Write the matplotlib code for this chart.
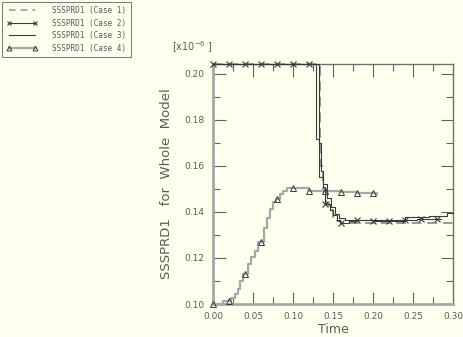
import numpy as np
import matplotlib
matplotlib.use('Agg')
import matplotlib.pyplot as plt
from matplotlib.lines import Line2D
from matplotlib.ticker import MultipleLocator

# ============================================================
# Data (values in units of 1e-6)
# ============================================================
case1_t = [0.000, 0.134, 0.138, 0.141, 0.145, 0.150, 0.155, 0.160, 0.300]
case1_v = [0.2043, 0.1600, 0.1500, 0.1440, 0.1410, 0.1380, 0.1360, 0.1350, 0.1348]

case2_t = [0.000, 0.129, 0.133, 0.137, 0.140, 0.146, 0.150, 0.155, 0.159,
           0.170, 0.178, 0.200, 0.240, 0.255, 0.285]
case2_v = [0.2043, 0.1717, 0.1553, 0.1510, 0.1435, 0.1409, 0.1387, 0.1365, 0.1353,
           0.1360, 0.1365, 0.1362, 0.1365, 0.1370, 0.1370]
case2_mark_t = [0.00, 0.02, 0.04, 0.06, 0.08, 0.10, 0.12, 0.14, 0.16,
                0.18, 0.20, 0.22, 0.24, 0.26, 0.28]
case2_mark_v = [0.2043, 0.2043, 0.2043, 0.2043, 0.2043, 0.2043, 0.2043, 0.1435, 0.1353,
                0.1365, 0.1362, 0.1362, 0.1365, 0.1370, 0.1370]

case3_t = [0.000, 0.1325, 0.135, 0.138, 0.142, 0.148, 0.152, 0.158, 0.165,
           0.240, 0.270, 0.293, 0.300]
case3_v = [0.2043, 0.1700, 0.1580, 0.1520, 0.1460, 0.1420, 0.1390, 0.1375, 0.1367,
           0.1377, 0.1383, 0.1394, 0.1394]

case4_t = [0.000, 0.012, 0.022, 0.027, 0.031, 0.034, 0.038, 0.044, 0.048, 0.052,
           0.056, 0.064, 0.068, 0.071, 0.075, 0.079, 0.084, 0.088, 0.092, 0.100,
           0.120, 0.140, 0.160, 0.180, 0.200, 0.205]
case4_v = [0.1000, 0.1013, 0.1025, 0.1043, 0.1064, 0.1099, 0.1130, 0.1174, 0.1206, 0.1232,
           0.1270, 0.1329, 0.1375, 0.1411, 0.1445, 0.1455, 0.1480, 0.1493, 0.1504, 0.1503,
           0.1493, 0.1490, 0.1487, 0.1484, 0.1481, 0.1480]
case4_mark_t = [0.00, 0.02, 0.04, 0.06, 0.08, 0.10, 0.12, 0.14, 0.16, 0.18, 0.20]
case4_mark_v = [0.1000, 0.1014, 0.1131, 0.1271, 0.1455, 0.1504, 0.1493, 0.1490, 0.1487,
                0.1484, 0.1481]

labels = ['SSSPRD1 (Case 1)', 'SSSPRD1 (Case 2)', 'SSSPRD1 (Case 3)', 'SSSPRD1 (Case 4)']

# ============================================================
bg = '#fffff0'
dark = '#3a3a3a'
gray = '#a8a8a8'
txt = '#5a5a5a'

fig = plt.figure(figsize=(4.63, 3.37), dpi=100, facecolor=bg)
ax = fig.add_axes([213/463, 33/337, 240/463, 240/337], facecolor=bg)

ax.plot(case1_t, case1_v, drawstyle='steps-post', color='#999999', lw=1.4,
        dashes=(5, 3), clip_on=False, zorder=3)
ax.plot(case2_t, case2_v, drawstyle='steps-post', color=dark, lw=0.8,
        clip_on=False, zorder=4)
ax.plot(case2_mark_t, case2_mark_v, ls='none', marker='x', ms=4, mew=0.8, color=dark,
        clip_on=False, zorder=5)
ax.plot(case3_t, case3_v, drawstyle='steps-post', color=dark, lw=0.8,
        clip_on=False, zorder=4)
ax.plot(case4_t, case4_v, drawstyle='steps-post', color=gray, lw=1.6,
        clip_on=False, zorder=3)
ax.plot(case4_mark_t, case4_mark_v, ls='none', marker='^', ms=4, mew=0.7,
        mfc='none', mec=dark, clip_on=False, zorder=5)

ax.set_xlim(0, 0.30)
ax.set_ylim(0.10, 0.2043)
ax.xaxis.set_major_locator(MultipleLocator(0.05))
ax.xaxis.set_minor_locator(MultipleLocator(0.025))
ax.yaxis.set_major_locator(MultipleLocator(0.02))
ax.yaxis.set_minor_locator(MultipleLocator(0.01))
ax.xaxis.set_major_formatter(plt.FormatStrFormatter('%.2f'))
ax.yaxis.set_major_formatter(plt.FormatStrFormatter('%.2f'))
ax.tick_params(which='both', direction='in', top=True, right=True,
               color='#606060', width=0.8, labelsize=6.5, labelcolor=txt, pad=6)
ax.tick_params(which='major', length=9)
ax.tick_params(which='minor', length=5)

for s in ['left', 'bottom']:
    ax.spines[s].set_color(gray)
    ax.spines[s].set_linewidth(2)
for s in ['top', 'right']:
    ax.spines[s].set_color('#707070')
    ax.spines[s].set_linewidth(1)

ax.set_xlabel('Time', fontsize=9, color=txt, labelpad=1)
ax.set_ylabel('SSSPRD1   for  Whole  Model', fontsize=9.5, color=txt, labelpad=8)
fig.text(172/463, 1 - 47/337, r'[x10$^{-6}$ ]', fontsize=7, color=txt, va='center')

handles = [
    Line2D([], [], color='#999999', lw=1.2, dashes=(4, 3)),
    Line2D([], [], color=dark, lw=0.8, marker='x', ms=3.5, mew=0.8),
    Line2D([], [], color=dark, lw=0.8),
    Line2D([], [], color=gray, lw=1.6, marker='^', ms=3.5, mew=0.7, mfc='none', mec=dark),
]
leg = fig.legend(handles, labels, loc='upper left', bbox_to_anchor=(0.0, 1.0),
                 prop={'family': 'DejaVu Sans Mono', 'size': 5.6}, numpoints=2,
                 handlelength=4.0, handletextpad=1.9, labelspacing=0.45,
                 borderpad=0.6, borderaxespad=0.2, fancybox=False, framealpha=1,
                 facecolor=bg, edgecolor='#808080', labelcolor=txt)
leg.get_frame().set_linewidth(0.8)

fig.savefig('out.png', dpi=100, facecolor=bg)
